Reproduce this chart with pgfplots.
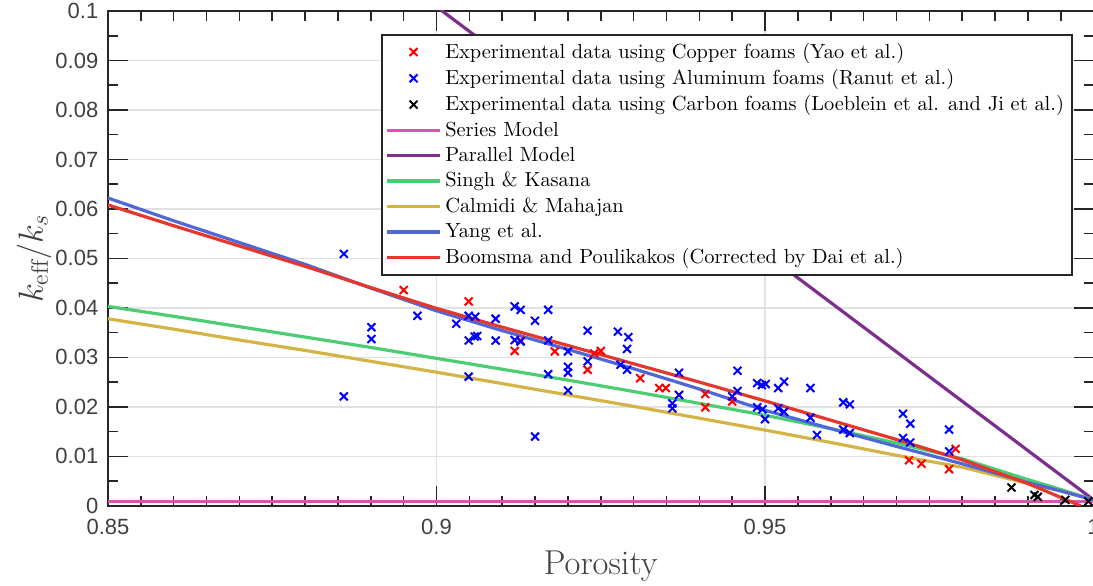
\documentclass[border=0pt]{standalone}
\usepackage{pgfplots}
\pgfplotsset{compat=1.18}
\usepackage{fontspec}
\newfontfamily\tickfont{Liberation Sans}
\usetikzlibrary{calc}
\definecolor{axgray}{RGB}{38,38,38}
\definecolor{tickgray}{RGB}{64,64,64}
\definecolor{gridgray}{RGB}{225,225,225}
\definecolor{cseries}{RGB}{212,86,176}
\definecolor{cparallel}{RGB}{126,47,142}
\definecolor{csingh}{RGB}{77,205,115}
\definecolor{ccalmidi}{RGB}{212,180,70}
\definecolor{cyang}{RGB}{80,104,214}
\definecolor{cboomsma}{RGB}{230,55,45}
\begin{document}
\begin{tikzpicture}
\begin{axis}[
  name=ax,
  scale only axis, width=493pt, height=247.5pt,
  xmin=0.85, xmax=1, ymin=0, ymax=0.1,
  xtick={0.85,0.9,0.95,1},
  ytick={0,0.01,0.02,0.03,0.04,0.05,0.06,0.07,0.08,0.09,0.1},
  minor x tick num=9, minor y tick num=1,
  tick align=inside,
  major tick length=10pt, minor tick length=5pt,
  grid=major,
  major grid style={draw=gridgray, line width=0.7pt},
  axis line style={draw=axgray, line width=0.9pt},
  tick style={draw=axgray, line width=0.8pt},
  tick label style={font=\tickfont\fontsize{11}{13}\selectfont, text=tickgray},
  /pgf/number format/assume math mode=true,
  /pgf/number format/fixed, /pgf/number format/precision=2,
  xticklabel style={yshift=-3.3pt},
  yticklabel style={xshift=-1.3pt},
  xlabel={Porosity},
  xlabel style={font=\LARGE, text=tickgray, at={(axis description cs:0.5,0)}, anchor=base, yshift=-34.5pt},
  legend style={at={(0.2769,0.9535)}, anchor=north west, draw=axgray, line width=0.9pt,
    font=\fontsize{10.2}{12}\selectfont, fill=white, inner sep=2pt},
  legend cell align=left,
  legend image code/.code={\draw[mark repeat=2,mark phase=2,#1] plot coordinates {(0cm,0cm) (0.46cm,0cm) (0.92cm,0cm)};},
]
% Copper foams (Yao et al.)
\addplot[only marks, mark=x, mark size=2.8pt, mark options={draw=red, line width=1pt}] table {
x y
0.8950 0.0436
0.9049 0.0413
0.9119 0.0313
0.9128 0.0334
0.9180 0.0312
0.9230 0.0275
0.9240 0.0308
0.9250 0.0313
0.9310 0.0258
0.9339 0.0238
0.9349 0.0238
0.9369 0.0224
0.9409 0.0226
0.9409 0.0199
0.9450 0.0211
0.9719 0.0092
0.9738 0.0085
0.9780 0.0074
0.9790 0.0115
};
\addlegendentry{Experimental data using Copper foams (Yao et al.)}
% Aluminum foams (Ranut et al.)
\addplot[only marks, mark=x, mark size=2.8pt, mark options={draw=blue, line width=1pt}] table {
x y
0.8859 0.0509
0.8859 0.0221
0.8901 0.0361
0.8901 0.0337
0.8971 0.0384
0.9030 0.0368
0.9049 0.0384
0.9059 0.0382
0.9049 0.0334
0.9058 0.0342
0.9062 0.0343
0.9049 0.0261
0.9090 0.0378
0.9090 0.0334
0.9119 0.0403
0.9128 0.0396
0.9119 0.0335
0.9128 0.0332
0.9150 0.0374
0.9150 0.0140
0.9170 0.0396
0.9170 0.0334
0.9170 0.0266
0.9200 0.0312
0.9200 0.0281
0.9200 0.0269
0.9200 0.0233
0.9230 0.0354
0.9230 0.0292
0.9276 0.0352
0.9292 0.0341
0.9290 0.0317
0.9280 0.0285
0.9290 0.0275
0.9369 0.0269
0.9369 0.0224
0.9359 0.0207
0.9359 0.0197
0.9458 0.0273
0.9458 0.0232
0.9450 0.0221
0.9488 0.0248
0.9495 0.0244
0.9501 0.0246
0.9488 0.0199
0.9496 0.0195
0.9500 0.0175
0.9520 0.0238
0.9529 0.0251
0.9520 0.0197
0.9529 0.0190
0.9569 0.0238
0.9569 0.0178
0.9579 0.0143
0.9619 0.0209
0.9629 0.0205
0.9619 0.0154
0.9629 0.0147
0.9710 0.0186
0.9721 0.0166
0.9710 0.0137
0.9721 0.0128
0.9780 0.0154
0.9780 0.0110
};
\addlegendentry{Experimental data using Aluminum foams (Ranut et al.)}
% Carbon foams
\addplot[only marks, mark=x, mark size=2.8pt, mark options={draw=black, line width=1pt}] table {
x y
0.9875 0.0037
0.9910 0.0022
0.9915 0.0018
0.9957 0.0012
0.9992 0.0009
};
\addlegendentry{Experimental data using Carbon foams (Loeblein et al. and Ji et al.)}
% Series model
\addplot[cseries, no marks, line width=1.6pt] coordinates {(0.85,0.0009) (1.0,0.0009)};
\addlegendentry{Series Model}
% Parallel model
\addplot[cparallel, no marks, line width=1.6pt] coordinates {(0.85,0.1507) (1.0,0.0012)};
\addlegendentry{Parallel Model}
% Singh & Kasana
\addplot[csingh, no marks, line width=1.6pt] table {
x y
0.85 0.0403
0.86 0.0383
0.87 0.0362
0.88 0.0341
0.89 0.0320
0.90 0.0298
0.91 0.0276
0.92 0.0254
0.93 0.0231
0.94 0.0207
0.95 0.0183
0.96 0.0156
0.97 0.0127
0.98 0.0095
0.99 0.0053
0.995 0.0033
1.00 0.0012
};
\addlegendentry{Singh \& Kasana}
% Calmidi & Mahajan
\addplot[ccalmidi, no marks, line width=1.6pt] table {
x y
0.85 0.0378
0.86 0.0357
0.87 0.0335
0.88 0.0314
0.89 0.0292
0.90 0.0270
0.91 0.0247
0.92 0.0224
0.93 0.0201
0.94 0.0177
0.95 0.0153
0.96 0.0128
0.97 0.0102
0.98 0.0078
0.99 0.0045
0.995 0.0030
1.00 0.0012
};
\addlegendentry{Calmidi \& Mahajan}
% Yang et al.
\addplot[cyang, no marks, line width=1.6pt] table {
x y
0.85 0.0622
0.86 0.0576
0.87 0.0532
0.88 0.0488
0.89 0.0440
0.90 0.0394
0.91 0.0354
0.92 0.0316
0.93 0.0277
0.94 0.0236
0.95 0.0193
0.96 0.0156
0.97 0.0120
0.98 0.0085
0.99 0.0047
0.995 0.0030
1.00 0.0012
};
\addlegendentry{Yang et al.}
% Boomsma and Poulikakos
\addplot[cboomsma, no marks, line width=1.6pt] table {
x y
0.85 0.0608
0.86 0.0566
0.87 0.0525
0.88 0.0484
0.89 0.0441
0.90 0.0399
0.91 0.0361
0.92 0.0324
0.93 0.0287
0.94 0.0250
0.95 0.0212
0.96 0.0173
0.97 0.0134
0.98 0.0093
0.99 0.0045
0.998 0.0000
};
\addlegendentry{Boomsma and Poulikakos (Corrected by Dai et al.)}
\end{axis}
\node[rotate=90, font=\LARGE, text=tickgray, anchor=center] at ($(ax.south west)!0.5!(ax.north west)+(-37pt,0)$) {$k_{\mathrm{eff}}/k_s$};
\pgfresetboundingbox
\path[use as bounding box] ($(ax.south west)+(-54pt,-40pt)$) rectangle ($(ax.north east)+(-0.3pt,5.5pt)$);
\end{tikzpicture}
\end{document}
